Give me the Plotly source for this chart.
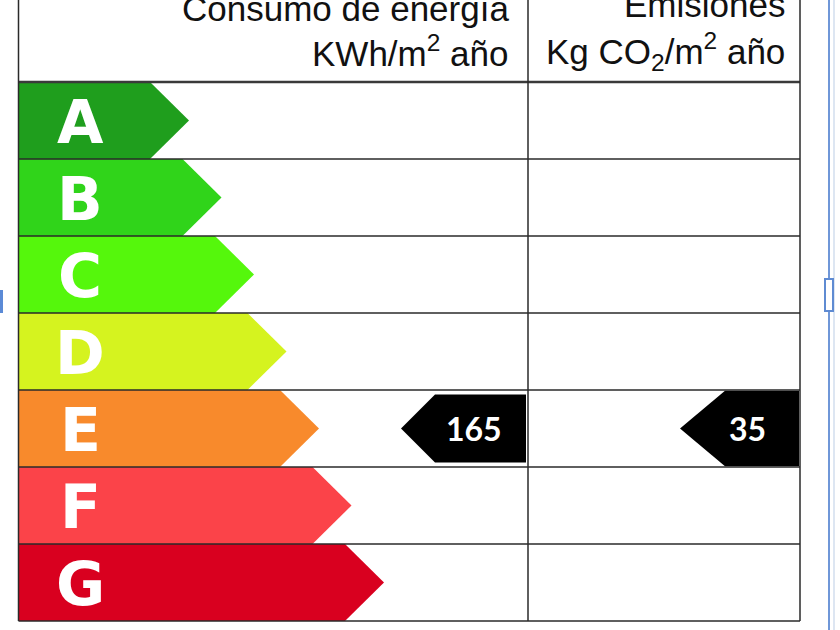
import plotly.graph_objects as go

# ---- data ----
ratings = ["A", "B", "C", "D", "E", "F", "G"]
rating_colors = ["#1f9e1d", "#30d41a", "#55f70c", "#d5f31f", "#f88a2c", "#fb4349", "#d9001f"]
consumo_value = 165
consumo_rating = "E"
emision_value = 35
emision_rating = "E"
header_consumo = ["Consumo de energía", "KWh/m<sup>2</sup> año"]
header_emision = ["Emisiones", "Kg CO<sub>2</sub>/m<sup>2</sup> año"]

# ---- layout helpers (pixel -> row units on y) ----
ROW0 = 120.5
ROWH = 77.0


def py(p):
    return (p - ROW0) / ROWH


X_LEFT, X_MID, X_RIGHT = 18.5, 528, 800

fig = go.Figure()

# rating arrows
for i, (lab, col) in enumerate(zip(ratings, rating_colors)):
    body = 150 + 32.5 * i
    tip = body + 39
    xs = [X_LEFT, body, tip, body, X_LEFT, X_LEFT]
    ys = [i - 0.5, i - 0.5, i, i + 0.5, i + 0.5, i - 0.5]
    fig.add_trace(go.Scatter(x=xs, y=ys, fill="toself", fillcolor=col, mode="lines",
                             line=dict(width=0, color=col), hoverinfo="skip", showlegend=False))
    fig.add_annotation(x=80, y=i + 0.02, text=lab, showarrow=False, xanchor="center", yanchor="middle",
                       font=dict(family="DejaVu Sans", size=60, color="white", weight="bold"))

# value pointers
def pointer(value, rating, tip_x, body_x, right_x, half):
    r = ratings.index(rating)
    xs = [tip_x, body_x, right_x, right_x, body_x, tip_x]
    ys = [r, r - half, r - half, r + half, r + half, r]
    fig.add_trace(go.Scatter(x=xs, y=ys, fill="toself", fillcolor="black", mode="lines",
                             line=dict(width=0, color="black"), hoverinfo="skip", showlegend=False))
    fig.add_annotation(x=right_x - 52, y=r, text=str(value), showarrow=False,
                       xanchor="center", yanchor="middle",
                       font=dict(family="Lato", size=32, color="white", weight="bold"))


pointer(consumo_value, consumo_rating, 401, 435, 526, 0.44)
pointer(emision_value, emision_rating, 680, 725, 799, 0.49)

# table lines
shapes = []
line_col = "#2a2a2a"
for k in range(len(ratings) + 1):
    y = k - 0.5
    shapes.append(dict(type="line", x0=X_LEFT, x1=X_RIGHT, y0=y, y1=y,
                       line=dict(color="#3a3a3a" if k == 0 else line_col, width=2.5 if k == 0 else 1.5),
                       layer="above"))
for x in (X_LEFT, X_MID, X_RIGHT):
    shapes.append(dict(type="line", x0=x, x1=x, y0=py(-5), y1=len(ratings) - 0.5,
                       line=dict(color=line_col, width=1.5), layer="above"))

# window / selection artifacts at the edges
shapes.append(dict(type="line", x0=829, x1=829, y0=py(0), y1=py(630), line=dict(color="#6f97d8", width=2)))
shapes.append(dict(type="line", x0=834, x1=834, y0=py(0), y1=py(630), line=dict(color="#dde6f2", width=2)))
shapes.append(dict(type="rect", x0=825, x1=833, y0=py(279), y1=py(311), fillcolor="white",
                   line=dict(color="#5f8bd2", width=2)))
shapes.append(dict(type="rect", x0=0, x1=3, y0=py(290), y1=py(313), fillcolor="#5b8ad6",
                   line=dict(width=0)))

# headers
hfont = dict(family="Liberation Sans", size=35, color="#111")
fig.add_annotation(x=511, y=py(8), text=header_consumo[0], showarrow=False, xanchor="right", yanchor="middle", font=hfont)
fig.add_annotation(x=511, y=py(51), text=header_consumo[1], showarrow=False, xanchor="right", yanchor="middle", font=hfont)
fig.add_annotation(x=787, y=py(4), text=header_emision[0], showarrow=False, xanchor="right", yanchor="middle", font=hfont)
fig.add_annotation(x=787, y=py(51), text=header_emision[1], showarrow=False, xanchor="right", yanchor="middle", font=hfont)

fig.update_layout(
    width=840, height=630, autosize=False,
    margin=dict(l=0, r=0, t=0, b=0),
    paper_bgcolor="white", plot_bgcolor="white",
    shapes=shapes,
    xaxis=dict(range=[0, 840], visible=False, fixedrange=True),
    yaxis=dict(range=[py(630), py(0)], visible=False, fixedrange=True),
    showlegend=False,
)

fig.write_html("out.html", config={"displayModeBar": False},
               post_script="document.body.style.margin='0';document.body.style.overflow='hidden';")
